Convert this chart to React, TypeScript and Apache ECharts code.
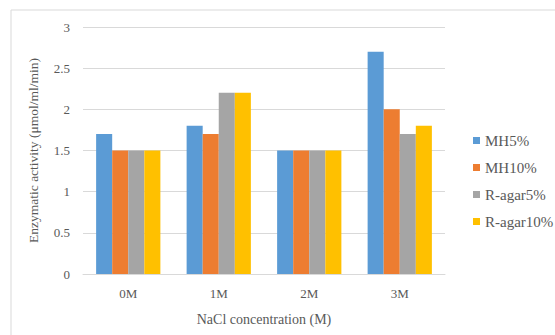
import React, { useEffect, useRef } from "react";
import * as echarts from "echarts";

const categories = ["0M", "1M", "2M", "3M"];
const seriesNames = ["MH5%", "MH10%", "R-agar5%", "R-agar10%"];
const mh5 = [1.7, 1.8, 1.5, 2.7];
const mh10 = [1.5, 1.7, 1.5, 2.0];
const ragar5 = [1.5, 2.2, 1.5, 1.7];
const ragar10 = [1.5, 2.2, 1.5, 1.8];
const colors = ["#5B9BD5", "#ED7D31", "#A5A5A5", "#FFC000"];

const FONT = "Liberation Serif";

export default function App() {
  const ref = useRef<HTMLDivElement>(null);
  useEffect(() => {
    if (!ref.current) return;
    const chart = echarts.init(ref.current, undefined, { renderer: "svg" });
    const values = [mh5, mh10, ragar5, ragar10];
    chart.setOption({
      animation: false,
      backgroundColor: "#ffffff",
      textStyle: { fontFamily: FONT },
      graphic: [
        {
          type: "rect",
          shape: { x: 11, y: 10, width: 600, height: 400 },
          style: { fill: "none", stroke: "#D9D9D9", lineWidth: 1 },
          silent: true,
        },
      ],
      grid: { left: 83, right: 110, top: 27, bottom: 61 },
      legend: {
        orient: "vertical",
        left: 468,
        top: 128,
        itemWidth: 7,
        itemHeight: 7,
        itemGap: 12,
        icon: "rect",
        textStyle: { fontFamily: FONT, fontSize: 15, color: "#595959" },
        data: seriesNames,
      },
      xAxis: {
        type: "category",
        data: categories,
        name: "NaCl concentration (M)",
        nameLocation: "middle",
        nameGap: 38,
        nameTextStyle: { fontFamily: FONT, fontSize: 14, color: "#595959" },
        axisLine: { lineStyle: { color: "#D9D9D9", width: 1 } },
        axisTick: { show: false },
        axisLabel: { fontFamily: FONT, fontSize: 13, color: "#595959", margin: 13 },
      },
      yAxis: {
        type: "value",
        min: 0,
        max: 3,
        interval: 0.5,
        name: "Enzymatic activity (μmol/ml/min)",
        nameLocation: "middle",
        nameGap: 43,
        nameTextStyle: { fontFamily: FONT, fontSize: 13.5, color: "#595959" },
        axisLine: { show: false },
        axisTick: { show: false },
        splitLine: { lineStyle: { color: "#D9D9D9", width: 1 } },
        axisLabel: { fontFamily: FONT, fontSize: 13, color: "#595959", margin: 13 },
      },
      series: seriesNames.map((n, i) => ({
        name: n,
        type: "bar",
        data: values[i],
        barGap: "0%",
        barCategoryGap: "29%",
        itemStyle: { color: colors[i] },
      })),
    });
    return () => chart.dispose();
  }, []);
  return (
    <div
      ref={ref}
      style={{ position: "fixed", left: 0, top: 0, width: 555, height: 335 }}
    />
  );
}
